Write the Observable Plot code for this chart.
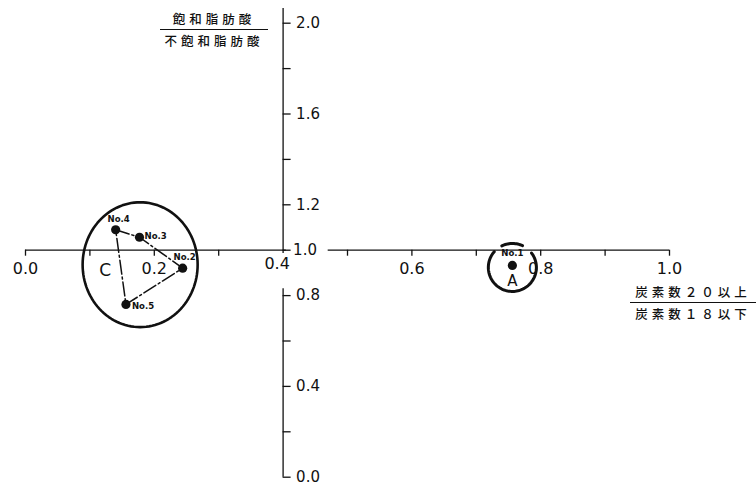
<!DOCTYPE html>
<html><head><meta charset="utf-8">
<script src="https://cdn.jsdelivr.net/npm/d3@7"></script>
<script src="https://cdn.jsdelivr.net/npm/@observablehq/plot@0.6"></script>
<style>
body{margin:0;background:#fff;}
#wrap{position:relative;width:756px;height:485px;overflow:hidden;}
.frac{position:absolute;font-family:"Noto Sans CJK JP";font-size:12.5px;font-weight:500;color:#111;text-align:center;line-height:15px;letter-spacing:4px;}
.frac .num{padding:0 0 3px 0;border-bottom:1.5px solid #111;}
.frac .den{padding-top:3px;}
</style></head><body>
<div id="wrap">
  <div class="frac" id="ytitle" style="left:160px;top:11px;width:108px;"><div class="num">飽和脂肪酸</div><div class="den">不飽和脂肪酸</div></div>
  <div class="frac" id="xtitle" style="left:630px;top:284px;width:126px;"><div class="num">炭素数２０以上</div><div class="den">炭素数１８以下</div></div>
</div>
<script>
// ---- data ----
const sampleNames   = ["No.1", "No.2", "No.3", "No.4", "No.5"];
const ratioC20C18   = [0.756, 0.244, 0.177, 0.140, 0.156];   // x: 炭素数20以上 / 炭素数18以下
const ratioSatUnsat = [0.933, 0.921, 1.057, 1.090, 0.761];   // y: 飽和脂肪酸 / 不飽和脂肪酸
const polygonOrder  = ["No.4", "No.3", "No.2", "No.5", "No.4"];
const groupNames    = ["C", "A"];
const groupCenterX  = [0.178, 0.756];
const groupCenterY  = [0.936, 0.924];
const groupRadiusX  = [0.0893, 0.0373];
const groupRadiusY  = [0.275, 0.1057];
const xTickValues   = [0, 0.1, 0.2, 0.3, 0.5, 0.6, 0.7, 0.8, 0.9, 1.0];
const xTickLabels   = [0.0, 0.2, 0.6, 0.8, 1.0];
const xTickLabelAxis = [0.4];
const yTickValues   = [0, 0.2, 0.4, 0.6, 0.8, 1.0, 1.2, 1.4, 1.6, 1.8, 2.0];
const yTickLabels   = [0.0, 0.4, 0.8, 1.2, 1.6, 2.0];
const yTickLabelCross = [1.0];
const xAxisSegments = [[0, 0.405], [0.47, 1.0]];
const yAxisSegments = [[0.985, 2.065], [0, 0.83]];

// ---- layout (not data) ----
const labelLayout = {
  "No.1": {dx: 0, dy: -12, anchor: "middle"},
  "No.2": {dx: 2, dy: -11, anchor: "middle"},
  "No.3": {dx: 5, dy: -1, anchor: "start"},
  "No.4": {dx: 3, dy: -11, anchor: "middle"},
  "No.5": {dx: 6, dy: 2, anchor: "start"}
};
const groupLayout = {C: {dx: -35, dy: 6, size: 17, arcs: [[0, 360]], sw: 2.6},
                     A: {dx: 0, dy: 14, size: 15, arcs: [[139, 397], [65, 117]], sw: 3}};

const samples = sampleNames.map((n, i) => ({name: n, x: ratioC20C18[i], y: ratioSatUnsat[i]}));
const byName = new Map(samples.map(d => [d.name, d]));
const polygon = polygonOrder.map(n => byName.get(n));
const groups = groupNames.map((g, i) => ({name: g, cx: groupCenterX[i], cy: groupCenterY[i], rx: groupRadiusX[i], ry: groupRadiusY[i]}));

// outline of each group's ellipse (shape geometry from its read centre/radii)
const outline = [];
groups.forEach(g => {
  groupLayout[g.name].arcs.forEach(([a0, a1], k) => {
    for (let a = a0; a <= a1; a += 3) {
      const t = a * Math.PI / 180;
      outline.push({group: g.name, arc: g.name + k, x: g.cx + g.rx * Math.cos(t), y: g.cy + g.ry * Math.sin(t)});
    }
  });
});

const ink = "#111";
const tickFont = "DejaVu Sans";
const chart = Plot.plot({
  width: 756, height: 485, margin: 0,
  x: {domain: [0, 1], range: [25, 669], axis: null},
  y: {domain: [0, 2], range: [476.7, 22.7], axis: null},
  style: {background: "transparent", color: ink},
  marks: [
    // x axis (at y = 1.0), broken where the "1.0" label sits
    Plot.ruleY(xAxisSegments, {y: () => 1, x1: d => d[0], x2: d => d[1], stroke: ink, strokeWidth: 1.3}),
    Plot.ruleX(xTickValues, {x: d => d, y1: () => 1, y2: () => 1, insetBottom: -6, stroke: ink, strokeWidth: 1.3}),
    Plot.text(xTickLabels, {x: d => d, y: () => 1, dy: 19, text: d => d.toFixed(1), fontSize: 16, fontFamily: tickFont, fill: ink}),
    Plot.text(xTickLabelAxis, {x: d => d, y: () => 1, dy: 14, dx: -6, text: d => d.toFixed(1), fontSize: 16, fontFamily: tickFont, fill: ink}),
    // y axis (at x = 0.4), broken below 1.0
    Plot.ruleX(yAxisSegments, {x: () => 0.4, y1: d => d[0], y2: d => d[1], stroke: ink, strokeWidth: 1.3}),
    Plot.ruleY(yTickValues, {y: d => d, x1: () => 0.4, x2: () => 0.4, insetRight: -8, stroke: ink, strokeWidth: 1.3}),
    Plot.text(yTickLabels, {x: () => 0.4, y: d => d, dx: 13, textAnchor: "start", text: d => d.toFixed(1), fontSize: 15, fontFamily: tickFont, fill: ink}),
    Plot.text(yTickLabelCross, {x: () => 0.4, y: d => d, dx: 10, textAnchor: "start", text: d => d.toFixed(1), fontSize: 15, fontFamily: tickFont, fill: ink}),
    // group ellipses
    Plot.line(outline.filter(d => d.group === "C"), {x: "x", y: "y", z: "arc", stroke: ink, strokeWidth: groupLayout.C.sw, curve: "linear-closed"}),
    Plot.line(outline.filter(d => d.group === "A"), {x: "x", y: "y", z: "arc", stroke: ink, strokeWidth: groupLayout.A.sw}),
    ...groups.map(g => Plot.text([g], {x: "cx", y: "cy", text: "name", dx: groupLayout[g.name].dx, dy: groupLayout[g.name].dy, fontSize: groupLayout[g.name].size, fontFamily: tickFont, fill: ink})),
    // connecting dash-dot polygon
    Plot.line(polygon, {x: "x", y: "y", stroke: ink, strokeWidth: 1.5, strokeDasharray: "14,3,2,3"}),
    Plot.dot(samples, {x: "x", y: "y", r: 4.6, fill: ink, stroke: "none"}),
    ...sampleNames.map(n => Plot.text([byName.get(n)], {x: "x", y: "y", text: "name", dx: labelLayout[n].dx, dy: labelLayout[n].dy, textAnchor: labelLayout[n].anchor, fontSize: 9.5, fontWeight: "bold", fontFamily: "DejaVu Sans Condensed", fill: ink}))
  ]
});
document.getElementById("wrap").prepend(chart);
chart.style.position = "absolute"; chart.style.left = "0"; chart.style.top = "0";
</script>
</body></html>
